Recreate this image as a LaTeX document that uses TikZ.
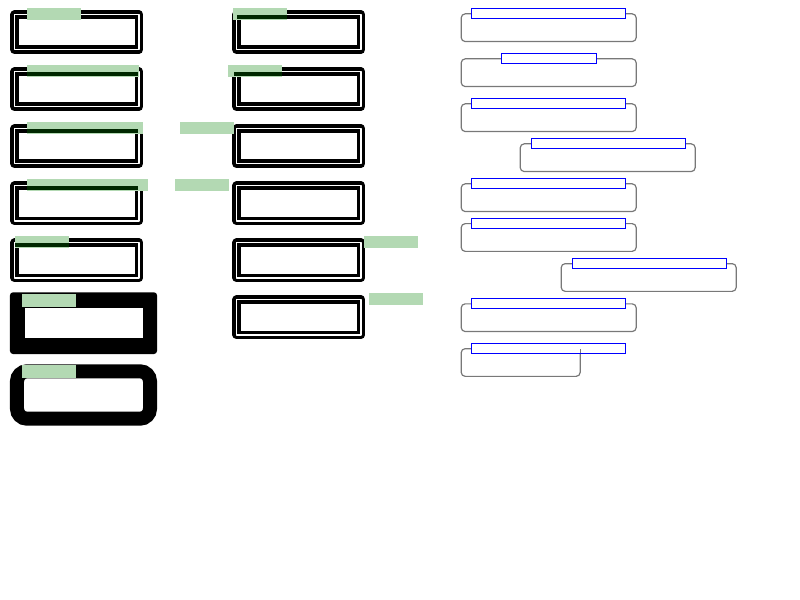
\documentclass[tikz,border=0pt]{standalone}
\usepackage{tikz}
\definecolor{lblgreen}{RGB}{179,217,179}
\definecolor{dkgreen}{RGB}{0,40,0}
\definecolor{boxgray}{RGB}{120,120,120}
\tikzset{
  dbox/.style={draw=black, double=white, line width=3.5bp, double distance=1.5bp, line join=round, fill=white, inner sep=0pt, minimum width=124.4bp, minimum height=35.1bp},
  lbl/.style={fill=lblgreen, inner sep=0pt, anchor=north west, minimum height=12bp},
  gbox/.style={draw=boxgray, line width=1.2bp, rounded corners=4bp, fill=white, inner sep=0pt, minimum width=175bp, minimum height=27.7bp},
  blbl/.style={draw=blue, line width=1bp, fill=white, inner sep=0pt, minimum width=154bp, minimum height=10bp},
}
\begin{document}
\begin{tikzpicture}[x=1bp,y=-1bp]
\useasboundingbox (0,0) rectangle (800,600);
% left column double boxes
\node[dbox] (l1) at (76.8,32.2) {};
\node[dbox] (l2) at (76.8,89.2) {};
\node[dbox] (l3) at (76.8,146.2) {};
\node[dbox] (l4) at (76.8,203.2) {};
\node[dbox] (l5) at (76.8,260.2) {};
% right column double boxes
\node[dbox] (r1) at (298.8,32.2) {};
\node[dbox] (r2) at (298.8,89.2) {};
\node[dbox] (r3) at (298.8,146.2) {};
\node[dbox] (r4) at (298.8,203.2) {};
\node[dbox] (r5) at (298.8,260.2) {};
\node[dbox] (r6) at (298.8,317.2) {};
% thick black boxes
\node[fill=black, rounded corners=3bp, inner sep=0pt, minimum width=147bp, minimum height=61.7bp] (l6) at (83.5,323.15) {};
\node[fill=white, inner sep=0pt, minimum width=117.7bp, minimum height=30.6bp] (l6in) at (83.85,323) {};
\node[draw=black, line width=14bp, rounded corners=10bp, fill=white, inner sep=0pt, minimum width=133bp, minimum height=47.4bp] (l7) at (83.5,395) {};
% green labels
\node[lbl, minimum width=54bp] (t1) at (27,8) {};
\node[lbl, minimum width=112bp] (t2) at (27,65) {};
\node[lbl, minimum width=116bp] (t3) at (27,122) {};
\node[lbl, minimum width=121bp] (t4) at (27,179) {};
\node[lbl, minimum width=54bp] (t5) at (15,236) {};
\node[lbl, minimum width=54.3bp, minimum height=12.7bp] (t6) at (21.7,294) {};
\node[lbl, minimum width=54.3bp, minimum height=12.3bp] (t7) at (21.7,365) {};
\node[lbl, minimum width=54bp] (u1) at (233,8) {};
\node[lbl, minimum width=54bp] (u2) at (228,65) {};
\node[lbl, minimum width=54bp] (u3) at (180,122) {};
\node[lbl, minimum width=54bp] (u4) at (175,179) {};
\node[lbl, minimum width=54bp] (u5) at (364,236) {};
\node[lbl, minimum width=54bp] (u6) at (369,293) {};
% dark overlaps of inner border line under labels
\foreach \yy/\xa/\xb in {72.3/27/138.3, 129.3/27/138.3, 186.3/27/138.3, 243.3/15/69, 15.3/237/287, 72.3/234/282}{
  \fill[dkgreen] (\xa,\yy) rectangle (\xb,\yy+3.5);
}
% gray boxes
\node[gbox] (g1) at (548.7,27.7) {};
\node[gbox] (g2) at (548.7,72.7) {};
\node[gbox] (g3) at (548.7,117.7) {};
\node[gbox] (g4) at (607.7,157.7) {};
\node[gbox] (g5) at (548.7,197.7) {};
\node[gbox] (g6) at (548.7,237.5) {};
\node[gbox] (g7) at (648.7,277.5) {};
\node[gbox] (g8) at (548.7,317.7) {};
\node[gbox, minimum width=119bp] (g9) at (520.7,362.5) {};
% blue labels
\node[blbl] (b1) at (548.5,13.5) {};
\node[blbl, minimum width=95bp] (b2) at (549,58.5) {};
\node[blbl] (b3) at (548.5,103.5) {};
\node[blbl] (b4) at (608.5,143.5) {};
\node[blbl] (b5) at (548.5,183.5) {};
\node[blbl] (b6) at (548.5,223.5) {};
\node[blbl] (b7) at (649.5,263.5) {};
\node[blbl] (b8) at (548.5,303.5) {};
\node[blbl] (b9) at (548.5,348.5) {};
% right edge of the last gray box showing inside its label
\draw[boxgray, line width=1.2bp] (g9.east) ++(0,-10) -- ++(0,-4);
\end{tikzpicture}
\end{document}
